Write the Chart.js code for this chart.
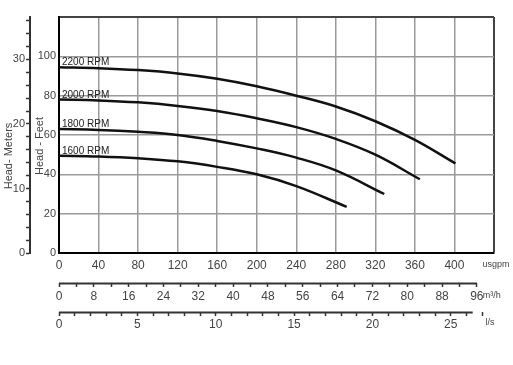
<!DOCTYPE html>
<html>
<head>
<meta charset="utf-8">
<script src="https://cdn.jsdelivr.net/npm/chart.js@4"></script>
<style>
  body { margin: 0; background: #fff; }
  #wrap { width: 513px; height: 365px; }
</style>
</head>
<body>
<div id="wrap"><canvas id="pump"></canvas></div>
<script>
// pump curves, flow in usgpm, head in feet
const speedLabels = ['2200 RPM', '2000 RPM', '1800 RPM', '1600 RPM'];

const flow2200 = [0, 40, 80, 120, 160, 200, 240, 280, 320, 360, 401];
const head2200 = [94.5, 94, 93, 91.3, 88.6, 84.8, 80, 74.5, 67, 57.5, 45.5];

const flow2000 = [0, 40, 80, 120, 160, 200, 240, 280, 320, 365];
const head2000 = [78, 77.6, 76.6, 74.8, 72.2, 68.5, 64, 58, 50, 37.5];

const flow1800 = [0, 40, 80, 120, 160, 200, 240, 280, 329];
const head1800 = [63, 62.6, 61.6, 60, 57, 53.2, 48.5, 42, 30];

const flow1600 = [0, 40, 80, 120, 160, 200, 240, 291];
const head1600 = [49.5, 49.1, 48.2, 46.6, 43.8, 40, 34, 23.5];

// axis ranges
const maxFlow = 440;       // usgpm
const maxHead = 120;       // feet
const m3hEnd = 96;
const lpsEnd = 26.4;

const FT_PER_M = 3.28084;
const M3H_PER_GPM = 0.2271247;
const LPS_PER_GPM = 0.0630902;

function pts(xs, ys) {
    return xs.map(function (x, i) { return { x: x, y: ys[i] }; });
}

const curves = [pts(flow2200, head2200), pts(flow2000, head2000), pts(flow1800, head1800), pts(flow1600, head1600)];

const textColor = '#444';
const gridColor = '#9a9a9a';
const darkLine = '#333';

const extras = {
    id: 'extras',
    afterDraw: function (chart) {
        const ctx = chart.ctx;
        const x2 = chart.scales.x2;
        const x3 = chart.scales.x3;
        const x = chart.scales.x;
        const y = chart.scales.y;
        ctx.save();
        // short axis lines for m3/h and l/s
        ctx.strokeStyle = darkLine;
        ctx.lineWidth = 2;
        ctx.beginPath();
        ctx.moveTo(x2.getPixelForValue(0), x2.top + 0.5);
        ctx.lineTo(x2.getPixelForValue(m3hEnd), x2.top + 0.5);
        ctx.moveTo(x3.getPixelForValue(0), x3.top + 0.5);
        ctx.lineTo(x3.getPixelForValue(lpsEnd), x3.top + 0.5);
        ctx.stroke();

        // units
        ctx.fillStyle = textColor;
        ctx.font = '9px "Liberation Sans", Arial, sans-serif';
        ctx.textBaseline = 'middle';
        ctx.textAlign = 'center';
        ctx.fillText('usgpm', x.right + 2, x.top + 12);
        ctx.textAlign = 'left';
        ctx.fillText('m³/h', x2.getPixelForValue(m3hEnd) + 6, x2.top + 13);
        ctx.textAlign = 'center';
        ctx.fillText('l/s', x.right - 4, x3.top + 11);

        // speed labels above each curve start
        ctx.font = '10px "Liberation Sans", Arial, sans-serif';
        ctx.fillStyle = '#222';
        ctx.textAlign = 'left';
        ctx.textBaseline = 'alphabetic';
        curves.forEach(function (c, i) {
            ctx.fillText(speedLabels[i], x.getPixelForValue(0) + 3, y.getPixelForValue(c[0].y) - 2);
        });

        // axis titles
        ctx.font = '11px "Liberation Sans", Arial, sans-serif';
        ctx.fillStyle = textColor;
        ctx.textAlign = 'center';
        ctx.textBaseline = 'middle';
        ctx.translate(8.5, 156);
        ctx.rotate(-Math.PI / 2);
        ctx.fillText('Head- Meters', 0, 0);
        ctx.rotate(Math.PI / 2);
        ctx.translate(31, -10);
        ctx.rotate(-Math.PI / 2);
        ctx.fillText('Head - Feet', 0, 0);
        ctx.restore();
    }
};

const fontBig = { family: '"Liberation Sans", Arial, sans-serif', size: 12 };
const fontSmall = { family: '"Liberation Sans", Arial, sans-serif', size: 11 };

new Chart(document.getElementById('pump'), {
    type: 'line',
    data: {
        datasets: curves.map(function (c, i) {
            return {
                label: speedLabels[i],
                data: c,
                borderColor: '#111',
                borderWidth: 2.5,
                pointRadius: 0,
                fill: false,
                tension: 0.4,
                xAxisID: 'x',
                yAxisID: 'y'
            };
        })
    },
    options: {
        responsive: true,
        maintainAspectRatio: false,
        animation: false,
        layout: { padding: { left: 0, top: 17, right: 19, bottom: 25 } },
        plugins: {
            legend: { display: false },
            tooltip: { enabled: false }
        },
        scales: {
            x: {
                type: 'linear',
                position: 'bottom',
                weight: 0,
                min: 0,
                max: maxFlow,
                afterFit: function (s) { s.height = 30; },
                ticks: {
                    stepSize: 40,
                    autoSkip: false,
                    maxRotation: 0,
                    padding: 5,
                    color: textColor,
                    font: fontBig,
                    callback: function (v) { return v === maxFlow ? '' : v; }
                },
                grid: {
                    drawTicks: false,
                    color: function (c) { return c.tick && c.tick.value === maxFlow ? '#444' : gridColor; },
                    lineWidth: function (c) { return c.tick && c.tick.value === maxFlow ? 2 : 1.5; }
                },
                border: { display: true, color: '#000', width: 2 }
            },
            x2: {
                type: 'linear',
                position: 'bottom',
                weight: 1,
                display: true,
                min: 0,
                max: maxFlow * M3H_PER_GPM,
                afterFit: function (s) { s.height = 29; },
                ticks: {
                    stepSize: 4,
                    includeBounds: false,
                    autoSkip: false,
                    maxRotation: 0,
                    padding: 2,
                    color: textColor,
                    font: fontBig,
                    callback: function (v) { return v % 8 === 0 ? v : ''; }
                },
                grid: { drawOnChartArea: false, tickLength: 4, tickColor: darkLine, tickWidth: 1.5 },
                border: { display: false }
            },
            x3: {
                type: 'linear',
                position: 'bottom',
                weight: 2,
                display: true,
                min: 0,
                max: maxFlow * LPS_PER_GPM,
                afterFit: function (s) { s.height = 28; },
                ticks: {
                    stepSize: 1,
                    includeBounds: false,
                    autoSkip: false,
                    maxRotation: 0,
                    padding: 1,
                    color: textColor,
                    font: fontBig,
                    callback: function (v) { return v % 5 === 0 ? v : ''; }
                },
                grid: { drawOnChartArea: false, tickLength: 4, tickColor: darkLine, tickWidth: 1.5 },
                border: { display: false }
            },
            y: {
                type: 'linear',
                position: 'left',
                weight: 0,
                min: 0,
                max: maxHead,
                afterFit: function (s) { s.width = 29; },
                ticks: {
                    stepSize: 20,
                    autoSkip: false,
                    padding: 3,
                    color: textColor,
                    font: fontSmall,
                    callback: function (v) { return v === maxHead ? '' : v; }
                },
                grid: {
                    drawTicks: false,
                    color: function (c) { return c.tick && c.tick.value === maxHead ? '#444' : gridColor; },
                    lineWidth: function (c) { return c.tick && c.tick.value === maxHead ? 2 : 1.5; }
                },
                border: { display: true, color: '#000', width: 2 }
            },
            yM: {
                type: 'linear',
                position: 'left',
                weight: 1,
                display: true,
                min: 0,
                max: maxHead / FT_PER_M,
                afterFit: function (s) { s.width = 30; },
                ticks: {
                    stepSize: 2,
                    includeBounds: false,
                    autoSkip: false,
                    padding: 1,
                    color: textColor,
                    font: fontSmall,
                    callback: function (v) { return v % 10 === 0 ? v : ''; }
                },
                grid: { drawOnChartArea: false, tickLength: 4, tickColor: darkLine, tickWidth: 1.5 },
                border: { display: true, color: darkLine, width: 2 }
            }
        }
    },
    plugins: [extras]
});
</script>
</body>
</html>
